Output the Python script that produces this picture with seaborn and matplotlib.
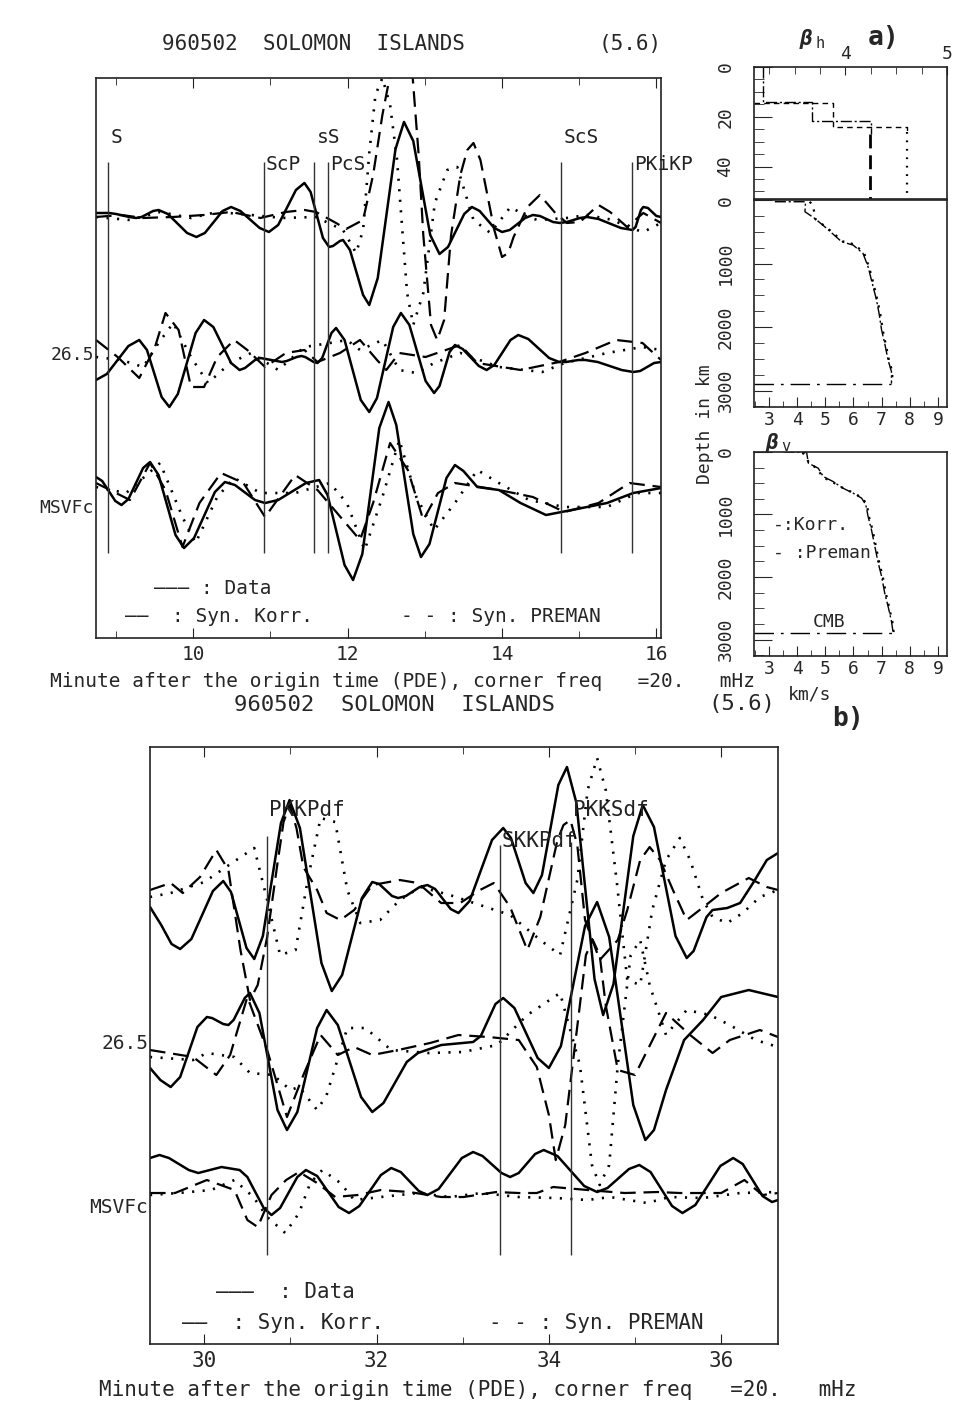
import pandas as pd
import matplotlib
matplotlib.use("Agg")
import matplotlib.pyplot as plt
from matplotlib.ticker import MultipleLocator, FixedLocator
import seaborn as sns

# ---------- a) window 8.7 - 16.1 min : three records (traces 1..3) ----------
top1_data_t = [8.74, 8.91, 9.00, 9.17, 9.26, 9.33, 9.48, 9.55, 9.67, 9.92, 10.04, 10.15, 10.38, 10.49, 10.61,
               10.86, 10.98, 11.10, 11.33, 11.44, 11.52, 11.68, 11.76, 11.81, 11.90, 11.94, 12.03, 12.20, 12.28,
               12.39, 12.62, 12.73, 12.85, 13.07, 13.19, 13.30, 13.51, 13.61, 13.71, 13.90, 14.00, 14.10, 14.30,
               14.40, 14.49, 14.66, 14.75, 14.84, 15.01, 15.10, 15.25, 15.54, 15.69, 15.73, 15.80, 15.83, 15.89,
               16.00, 16.06]
top1_data_a = [2, 2, 1, -2, -3, -2, 4, 5, 1, -18, -22, -18, 4, 8, 4, -13, -17, -10, 25, 32, 23, -23, -32, -31, -26,
               -25, -35, -80, -90, -63, 66, 93, 74, -20, -39, -32, 1, 8, 4, -13, -17, -15, -3, 0, -1, -7, -8, -7,
               -3, -2, -4, -13, -15, -12, 5, 8, 7, -1, -2]
top1_korr_t = [8.74, 9.07, 9.35, 9.74, 10.14, 10.49, 10.87, 11.20, 11.44, 11.59, 11.85, 11.98, 12.20, 12.33, 12.45,
               12.55, 12.68, 12.84, 12.92, 12.98, 13.08, 13.16, 13.25, 13.34, 13.46, 13.55, 13.63, 13.72, 13.81,
               13.90, 14.00, 14.08, 14.15, 14.33, 14.49, 14.69, 14.84, 15.01, 15.25, 15.40, 15.62, 15.83, 16.06]
top1_korr_a = [-2, 0, -3, -2, 0, 3, -3, 3, 5, 3, -8, -14, -5, 40, 100, 140, 175, 140, 60, -20, -110, -125, -105,
               -20, 40, 65, 72, 55, 20, -15, -42, -38, -22, 8, 20, 2, -8, -7, 10, 3, -12, 2, -8]
top1_prem_t = [8.74, 9.18, 9.57, 9.97, 10.31, 10.75, 11.15, 11.59, 11.94, 12.11, 12.20, 12.28, 12.36, 12.45, 12.55,
               12.64, 12.77, 12.85, 12.98, 13.13, 13.29, 13.42, 13.63, 13.85, 14.11, 14.33, 14.46, 14.84, 15.10,
               15.44, 15.62, 15.83, 16.06]
top1_prem_a = [-2, -5, 3, -3, 3, 0, -3, -2, -15, -38, -15, 62, 120, 137, 110, 55, -78, -110, -78, 12, 45, 48, -5,
               -18, 8, -2, -5, -3, 0, -5, -12, -17, -8]

top2_data_t = [8.74, 8.88, 9.16, 9.30, 9.40, 9.59, 9.69, 9.80, 10.03, 10.14, 10.26, 10.49, 10.60, 10.67, 10.80,
               10.87, 10.94, 11.08, 11.15, 11.21, 11.34, 11.40, 11.45, 11.56, 11.61, 11.67, 11.79, 11.85, 11.96,
               12.17, 12.28, 12.38, 12.59, 12.69, 12.80, 13.01, 13.12, 13.19, 13.32, 13.39, 13.49, 13.70, 13.80,
               13.90, 14.11, 14.21, 14.34, 14.61, 14.74, 14.83, 14.99, 15.08, 15.24, 15.55, 15.70, 15.79, 15.97,
               16.06]
top2_data_a = [-22, -16, 12, 18, 8, -39, -49, -36, 25, 38, 31, -5, -12, -10, -2, 0, -1, -3, -4, -3, 1, 2, 1, -4,
               -5, 0, 25, 30, 18, -42, -54, -40, 31, 45, 33, -23, -35, -28, 6, 13, 9, -8, -12, -7, 18, 23, 19, 0,
               -4, -4, -2, -2, -4, -12, -14, -13, -5, -4]
top2_korr_t = [8.74, 9.02, 9.30, 9.50, 9.64, 9.81, 9.97, 10.14, 10.31, 10.53, 10.70, 10.93, 11.20, 11.44, 11.61,
               11.90, 12.16, 12.38, 12.50, 12.67, 13.01, 13.46, 13.68, 14.24, 14.74, 15.08, 15.48, 15.82, 16.06]
top2_korr_a = [18, 1, -20, 10, 45, 28, -29, -29, 1, 18, 8, -9, 5, 8, -4, 5, 18, -2, -12, 5, 1, 13, -5, -12, -4, 5,
               18, 15, -2]
top2_prem_t = [8.74, 9.07, 9.35, 9.55, 9.74, 9.97, 10.19, 10.48, 10.75, 11.10, 11.44, 11.77, 11.99, 12.16, 12.45,
               12.67, 12.89, 13.12, 13.46, 13.96, 14.52, 14.81, 15.36, 15.82, 16.06]
top2_prem_a = [1, -2, -9, 15, 35, 1, -25, -5, 5, -12, 11, 15, 18, 8, 18, -12, -15, -5, 5, -9, -14, -5, 5, 11, 8]

top3_data_t = [8.74, 8.82, 8.99, 9.07, 9.16, 9.35, 9.44, 9.55, 9.77, 9.88, 10.01, 10.28, 10.41, 10.54, 10.80,
               10.93, 11.10, 11.46, 11.63, 11.74, 11.96, 12.07, 12.19, 12.41, 12.53, 12.63, 12.85, 12.95, 13.06,
               13.28, 13.39, 13.50, 13.68, 13.96, 14.24, 14.57, 14.97, 15.36, 15.70, 16.06]
top3_data_a = [18, 14, -6, -10, -4, 27, 33, 20, -40, -53, -43, 3, 13, 10, -5, -8, -5, 12, 15, 0, -70, -85, -59, 67,
               93, 70, -39, -62, -49, 17, 30, 24, 8, 5, -8, -20, -14, -8, 2, 7]
top3_korr_t = [8.74, 9.18, 9.44, 9.64, 9.86, 10.08, 10.36, 10.65, 10.93, 11.32, 11.61, 11.94, 12.16, 12.33, 12.55,
               12.78, 12.98, 13.17, 13.39, 13.96, 14.40, 14.81, 15.25, 15.65, 16.06]
top3_korr_a = [12, -5, 32, 5, -52, -8, 22, 12, -22, 20, 5, -25, -45, -8, 52, 25, -25, 2, 12, 5, -2, -17, -8, 12, 8]
top3_prem_t = [8.74, 9.13, 9.57, 9.86, 10.03, 10.31, 10.53, 10.87, 11.32, 11.77, 11.99, 12.22, 12.45, 12.67, 12.89,
               13.12, 13.39, 13.68, 13.96, 14.35, 14.81, 15.36, 15.75, 16.06]
top3_prem_a = [8, 2, 32, -22, -48, -2, 17, 2, 2, 12, -8, -55, -2, 55, -2, -35, -8, 25, 12, -5, -12, -12, 2, 2]

top_phase_names = ["S", "ScP", "sS", "PcS", "ScS", "PKiKP"]
top_phase_t = [8.90, 10.92, 11.57, 11.75, 14.77, 15.69]
top_phase_row = [0, 1, 0, 1, 0, 1]

# ---------- b) window 29.4 - 36.7 min ----------
bot1_data_t = [29.37, 29.50, 29.62, 29.72, 29.85, 30.10, 30.22, 30.31, 30.49, 30.58, 30.68, 30.89, 30.99, 31.11,
               31.36, 31.48, 31.60, 31.83, 31.95, 32.03, 32.18, 32.25, 32.34, 32.50, 32.59, 32.68, 32.86, 32.95,
               33.08, 33.34, 33.47, 33.56, 33.73, 33.82, 33.92, 34.11, 34.21, 34.32, 34.53, 34.63, 34.75, 34.98,
               35.09, 35.22, 35.47, 35.60, 35.68, 35.83, 35.90, 36.07, 36.22, 36.37, 36.53, 36.66]
bot1_data_a = [-7, -25, -44, -49, -39, 9, 19, 8, -48, -59, -36, 77, 100, 72, -63, -91, -75, 2, 18, 16, 4, 2, 4, 13,
               15, 11, -9, -13, -1, 60, 72, 62, 17, 7, 25, 115, 133, 97, -79, -115, -84, 64, 95, 73, -36, -58, -51,
               -17, -10, -8, -3, 17, 40, 47]
bot1_korr_t = [29.37, 29.61, 29.75, 29.95, 30.14, 30.28, 30.42, 30.53, 30.62, 30.73, 30.85, 30.92, 30.99, 31.07,
               31.15, 31.31, 31.42, 31.58, 31.74, 31.95, 32.27, 32.48, 32.75, 32.97, 33.20, 33.36, 33.55, 33.75,
               33.90, 34.10, 34.17, 34.25, 34.33, 34.42, 34.59, 34.80, 34.91, 35.06, 35.17, 35.29, 35.44, 35.60,
               35.75, 36.00, 36.32, 36.53, 36.66]
bot1_korr_a = [10, 17, 7, 23, 50, 30, -50, -100, -85, -37, 37, 78, 95, 72, 33, 10, -13, -20, -10, 15, 20, 17, -3,
               -3, 10, 17, -7, -50, -17, 60, 75, 80, 55, -20, -60, -40, -10, 40, 53, 40, 10, -20, -10, 7, 22, 13, 10]
bot1_prem_t = [29.37, 29.61, 30.00, 30.32, 30.58, 30.73, 30.88, 31.06, 31.20, 31.35, 31.52, 31.66, 31.81, 32.04,
               32.27, 32.51, 32.85, 33.20, 33.55, 33.90, 34.13, 34.33, 34.45, 34.56, 34.66, 34.79, 34.91, 35.06,
               35.20, 35.36, 35.52, 35.64, 35.79, 35.90, 36.07, 36.25, 36.45, 36.66]
bot1_prem_a = [3, 7, 18, 37, 52, 0, -55, -50, 20, 82, 78, 10, -23, -20, 0, 13, 5, -5, -15, -40, -55, 20, 110, 142,
               110, 17, -80, -85, -10, 40, 62, 40, 0, -17, -23, -13, 3, 10]

bot2_data_t = [29.37, 29.49, 29.61, 29.72, 29.92, 30.03, 30.09, 30.22, 30.28, 30.34, 30.47, 30.53, 30.64, 30.85,
               30.96, 31.08, 31.31, 31.42, 31.55, 31.82, 31.95, 32.08, 32.35, 32.48, 32.75, 33.12, 33.21, 33.38,
               33.47, 33.60, 33.87, 34.00, 34.14, 34.42, 34.56, 34.70, 34.98, 35.12, 35.22, 35.36, 35.57, 35.79,
               36.00, 36.32, 36.66]
bot2_data_a = [-23, -35, -42, -32, 18, 28, 27, 21, 20, 25, 47, 52, 32, -65, -85, -67, 17, 35, 20, -52, -67, -58,
               -17, -8, 0, 3, 9, 41, 47, 37, -13, -23, -1, 119, 143, 108, -60, -95, -85, -45, 5, 25, 48, 55, 48]
bot2_korr_t = [29.37, 29.87, 30.14, 30.30, 30.50, 30.73, 30.96, 31.15, 31.35, 31.55, 31.74, 31.95, 32.25, 32.62,
               32.95, 33.30, 33.65, 33.86, 34.00, 34.08, 34.19, 34.36, 34.43, 34.51, 34.59, 34.66, 34.80, 35.00,
               35.36, 35.64, 35.90, 36.10, 36.45, 36.66]
bot2_korr_a = [-5, -12, -30, -10, 48, -5, -72, -30, 10, -10, -2, -10, -5, 2, 10, 8, 5, -22, -70, -115, -80, 40, 90,
               105, 90, 40, -25, -30, 32, 10, -8, 5, 15, 8]
bot2_prem_t = [29.37, 29.87, 30.03, 30.35, 30.53, 30.80, 31.00, 31.10, 31.31, 31.42, 31.66, 31.87, 32.17, 32.60,
               33.00, 33.40, 33.75, 34.13, 34.36, 34.50, 34.59, 34.70, 34.80, 34.95, 35.06, 35.17, 35.36, 35.60,
               35.87, 36.10, 36.40, 36.66]
bot2_prem_a = [-12, -15, -8, -12, -28, -30, -45, -42, -65, -50, 17, 17, -5, -8, -7, 0, 30, 52, -20, -120, -140,
               -120, -20, 90, 105, 60, 10, 35, 30, 20, 5, -2]

bot3_data_t = [29.37, 29.48, 29.59, 29.82, 29.93, 30.20, 30.41, 30.50, 30.69, 30.78, 30.88, 31.08, 31.18, 31.31,
               31.56, 31.68, 31.80, 32.05, 32.17, 32.28, 32.49, 32.59, 32.72, 32.99, 33.12, 33.23, 33.45, 33.55,
               33.65, 33.84, 33.94, 34.10, 34.41, 34.56, 34.68, 34.93, 35.05, 35.18, 35.43, 35.55, 35.70, 35.99,
               36.14, 36.25, 36.48, 36.59, 36.66]
bot3_data_a = [37, 40, 37, 25, 22, 28, 25, 18, -13, -20, -13, 18, 25, 19, -12, -18, -11, 20, 27, 23, 4, 0, 6, 37,
               43, 39, 22, 18, 22, 41, 45, 39, 9, 3, 7, 26, 30, 23, -11, -18, -10, 29, 37, 31, -1, -7, -5]
bot3_korr_t = [29.37, 29.66, 30.03, 30.35, 30.50, 30.62, 30.78, 30.95, 31.10, 31.31, 31.52, 31.78, 32.05, 32.38,
               32.75, 33.01, 33.39, 33.65, 33.86, 34.05, 34.45, 34.88, 35.26, 35.52, 36.00, 36.27, 36.48, 36.66]
bot3_korr_a = [2, 2, 15, 5, -25, -32, 0, 15, 23, 12, -2, 0, 5, 3, -2, -2, 3, 2, 2, 8, 5, 2, 3, 2, 2, 15, 0, 2]
bot3_prem_t = [29.37, 29.70, 30.08, 30.35, 30.57, 30.73, 30.94, 31.10, 31.23, 31.37, 31.58, 31.74, 32.05, 32.48,
               32.85, 33.22, 33.65, 34.08, 34.45, 34.71, 35.14, 35.40, 35.79, 36.22, 36.66]
bot3_prem_a = [0, 2, 5, 15, -2, -22, -38, -18, 12, 25, 12, -5, -2, 2, -2, 2, -2, -3, -5, -2, -8, -2, -3, 2, 3]

bot_phase_names = ["PKKPdf", "SKKPdf", "PKKSdf"]
bot_phase_t = [30.73, 33.43, 34.26]
bot_phase_row = [0, 1, 0]

# ---------- velocity models (km/s vs depth km) ----------
bh_korr_v = [3.19, 3.19, 3.67, 3.67, 4.25, 4.25]
bh_korr_d = [0, 14.2, 14.2, 21.6, 21.6, 27]
bh_korr_mantle_v = [4.24, 4.24]
bh_korr_mantle_d = [27, 53]
bh_prem_v = [3.10, 3.88, 3.88, 4.61, 4.61]
bh_prem_d = [14.4, 14.4, 24, 24, 26]
bh_prem_mantle_v = [4.61, 4.61]
bh_prem_mantle_d = [26, 53]

mid_korr_v = [3.21, 3.92, 4.30, 4.28, 4.63, 5.05, 5.58, 5.99, 6.34, 6.52, 6.64, 6.82, 6.91, 7.00, 7.11, 7.23,
              7.35, 7.35]
mid_korr_d = [26, 26, 26, 184, 289, 446, 656, 709, 840, 1050, 1260, 1575, 1785, 2047, 2257, 2520, 2703, 2890]
mid_prem_v = [4.45, 4.57, 4.65, 5.10, 5.62, 6.05, 6.38, 6.55, 6.68, 6.85, 6.95, 7.04, 7.14, 7.26, 7.38, 7.38]
mid_prem_d = [26, 94, 300, 450, 650, 700, 840, 1050, 1260, 1575, 1785, 2047, 2257, 2520, 2703, 2890]

bv_korr_v = [3.51, 4.34, 4.40, 4.75, 4.93, 5.28, 5.63, 5.99, 6.29, 6.44, 6.52, 6.64, 6.76, 6.88, 7.00, 7.11,
             7.23, 7.35, 7.41]
bv_korr_d = [0, 10, 180, 260, 394, 474, 580, 659, 739, 845, 1031, 1244, 1510, 1775, 1988, 2254, 2467, 2706, 2892]
bv_prem_v = [4.20, 4.45, 4.72, 4.90, 5.25, 5.66, 6.04, 6.33, 6.48, 6.55, 6.68, 6.80, 6.92, 7.04, 7.15, 7.26,
             7.38, 7.43]
bv_prem_d = [10, 190, 265, 400, 480, 585, 662, 742, 850, 1035, 1250, 1515, 1780, 1990, 2260, 2470, 2710, 2892]
cmb_depth = 2891

# ---------------------------------------------------------------------------
sns.set_style("white")
plt.rcParams["font.family"] = ["DejaVu Sans Mono", "DejaVu Sans"]
plt.rcParams["axes.edgecolor"] = "#222222"
plt.rcParams["axes.linewidth"] = 1.2

styles = {
    "Data": dict(linewidth=1.8, linestyle="-"),
    "Korr": dict(linewidth=1.6, linestyle=(0, (7, 3.5))),
    "PREMAN": dict(linewidth=1.9, linestyle=(0, (0.8, 3.2))),
}


def make_frame(series, offsets):
    rows = []
    for (trace, model), (t, a) in series.items():
        for ti, ai in zip(t, a):
            rows.append({"time": ti, "y": offsets[trace] + ai, "trace": trace, "model": model})
    return pd.DataFrame(rows)


def draw_traces(ax, df):
    for model, st in styles.items():
        sub = df[df["model"] == model]
        sns.lineplot(data=sub, x="time", y="y", units="trace", estimator=None, sort=False,
                     color="black", ax=ax, legend=False, solid_joinstyle="round", **st)
    ax.set_xlabel("")
    ax.set_ylabel("")


def style_time_axis(ax, xlim, ytop, size):
    ax.set_xlim(*xlim)
    ax.set_ylim(0, ytop)
    ax.set_yticks([])
    ax.xaxis.set_major_locator(MultipleLocator(2))
    ax.xaxis.set_minor_locator(MultipleLocator(1))
    ax.tick_params(axis="x", which="both", direction="in", top=True, bottom=True,
                   labelsize=size, pad=5, color="#222222")
    ax.tick_params(axis="x", which="major", length=7)
    ax.tick_params(axis="x", which="minor", length=5)


fig = plt.figure(figsize=(9.66, 14.10), dpi=100)

# ---------------- panel a) ----------------
ax_top = fig.add_axes([0.0994, 0.5475, 0.5849, 0.3972])
top_off = {1: 423, 2: 280, 3: 143}
top_series = {
    (1, "Data"): (top1_data_t, top1_data_a), (1, "Korr"): (top1_korr_t, top1_korr_a),
    (1, "PREMAN"): (top1_prem_t, top1_prem_a),
    (2, "Data"): (top2_data_t, top2_data_a), (2, "Korr"): (top2_korr_t, top2_korr_a),
    (2, "PREMAN"): (top2_prem_t, top2_prem_a),
    (3, "Data"): (top3_data_t, top3_data_a), (3, "Korr"): (top3_korr_t, top3_korr_a),
    (3, "PREMAN"): (top3_prem_t, top3_prem_a),
}
draw_traces(ax_top, make_frame(top_series, top_off))
style_time_axis(ax_top, (8.74, 16.06), 560, 14)
ax_top.vlines(top_phase_t, 85, 476, color="#333333", lw=1.0)
for name, t, row in zip(top_phase_names, top_phase_t, top_phase_row):
    ax_top.text(t + (0.03 if row == 0 else 0.02), 500 if row == 0 else 473, name,
                fontsize=14, ha="left", va="center", color="#222222")
ax_top.text(-0.004, 283, "26.5", transform=ax_top.get_yaxis_transform(), ha="right", va="center", fontsize=13)
ax_top.text(-0.004, 130, "MSVFc", transform=ax_top.get_yaxis_transform(), ha="right", va="center", fontsize=13)
ax_top.text(9.49, 50, "——— : Data", fontsize=14, ha="left", va="center")
ax_top.text(9.11, 22, "——  : Syn. Korr.", fontsize=14, ha="left", va="center")
ax_top.text(12.69, 22, "- - : Syn. PREMAN", fontsize=14, ha="left", va="center")

fig.text(0.325, 0.969, "960502  SOLOMON  ISLANDS", fontsize=15, ha="center", va="center")
fig.text(0.652, 0.969, "(5.6)", fontsize=15, ha="center", va="center")
fig.text(0.417, 0.517, "Minute after the origin time (PDE), corner freq   =20.   mHz",
         fontsize=14, ha="center", va="center")

# ---------------- panel b) ----------------
ax_bot = fig.add_axes([0.1553, 0.0468, 0.6501, 0.4234])
bot_off = {1: 444, 2: 299, 3: 149}
bot_series = {
    (1, "Data"): (bot1_data_t, bot1_data_a), (1, "Korr"): (bot1_korr_t, bot1_korr_a),
    (1, "PREMAN"): (bot1_prem_t, bot1_prem_a),
    (2, "Data"): (bot2_data_t, bot2_data_a), (2, "Korr"): (bot2_korr_t, bot2_korr_a),
    (2, "PREMAN"): (bot2_prem_t, bot2_prem_a),
    (3, "Data"): (bot3_data_t, bot3_data_a), (3, "Korr"): (bot3_korr_t, bot3_korr_a),
    (3, "PREMAN"): (bot3_prem_t, bot3_prem_a),
}
draw_traces(ax_bot, make_frame(bot_series, bot_off))
style_time_axis(ax_bot, (29.37, 36.66), 597, 15)
ax_bot.vlines(bot_phase_t, 89, [508, 499, 502], color="#333333", lw=1.0)
for name, t, row in zip(bot_phase_names, bot_phase_t, bot_phase_row):
    ax_bot.text(t + 0.02, 534 if row == 0 else 503, name, fontsize=15, ha="left", va="center", color="#222222")
ax_bot.text(-0.003, 301, "26.5", transform=ax_bot.get_yaxis_transform(), ha="right", va="center", fontsize=14)
ax_bot.text(-0.003, 137, "MSVFc", transform=ax_bot.get_yaxis_transform(), ha="right", va="center", fontsize=14)
ax_bot.text(30.14, 52, "———  : Data", fontsize=15, ha="left", va="center")
ax_bot.text(29.74, 21, "——  : Syn. Korr.", fontsize=15, ha="left", va="center")
ax_bot.text(33.31, 21, "- - : Syn. PREMAN", fontsize=15, ha="left", va="center")

fig.text(0.408, 0.500, "960502  SOLOMON  ISLANDS", fontsize=16, ha="center", va="center")
fig.text(0.768, 0.501, "(5.6)", fontsize=16, ha="center", va="center")
fig.text(0.495, 0.0142, "Minute after the origin time (PDE), corner freq   =20.   mHz",
         fontsize=15, ha="center", va="center")

# ---------------- velocity panels ----------------
ax_bh = fig.add_axes([0.7805, 0.8589, 0.1998, 0.0936])
ax_mid = fig.add_axes([0.7805, 0.7113, 0.1998, 0.1468])
ax_bv = fig.add_axes([0.7805, 0.5348, 0.1998, 0.1447])

thin_korr = dict(color="black", linewidth=1.0, linestyle=(0, (8, 2, 1.5, 2)))
thin_prem = dict(color="black", linewidth=1.0, linestyle=(0, (4, 3)))

sns.lineplot(x=bh_korr_v, y=bh_korr_d, sort=False, estimator=None, ax=ax_bh, **thin_korr)
sns.lineplot(x=bh_korr_mantle_v, y=bh_korr_mantle_d, sort=False, estimator=None, ax=ax_bh,
             color="black", linewidth=2.0, linestyle=(0, (5, 2.5)))
sns.lineplot(x=bh_prem_v, y=bh_prem_d, sort=False, estimator=None, ax=ax_bh, **thin_prem)
sns.lineplot(x=bh_prem_mantle_v, y=bh_prem_mantle_d, sort=False, estimator=None, ax=ax_bh,
             color="black", linewidth=1.6, linestyle=(0, (0.8, 3)))

sns.lineplot(x=mid_korr_v, y=mid_korr_d, sort=False, estimator=None, ax=ax_mid, **thin_korr)
sns.lineplot(x=mid_prem_v, y=mid_prem_d, sort=False, estimator=None, ax=ax_mid,
             color="black", linewidth=1.6, linestyle=(0, (1, 3)))
ax_mid.hlines(cmb_depth, 2.47, mid_korr_v[-1], color="black", lw=1.0, linestyles=[(0, (14, 5, 2, 5))])

sns.lineplot(x=bv_korr_v, y=bv_korr_d, sort=False, estimator=None, ax=ax_bv, **thin_korr)
sns.lineplot(x=bv_prem_v, y=bv_prem_d, sort=False, estimator=None, ax=ax_bv,
             color="black", linewidth=1.6, linestyle=(0, (1, 3)))
ax_bv.hlines(cmb_depth, 2.47, bv_korr_v[-1], color="black", lw=1.0, linestyles=[(0, (14, 5, 2, 5))])
ax_bv.text(3.14, 1164, "-:Korr.", fontsize=13, ha="left", va="center")
ax_bv.text(3.14, 1611, "- :Preman", fontsize=13, ha="left", va="center")
ax_bv.text(4.56, 2711, "CMB", fontsize=13, ha="left", va="center")

for axr in (ax_bh, ax_mid, ax_bv):
    axr.set_xlabel("")
    axr.set_ylabel("")
    for sp in axr.spines.values():
        sp.set_linewidth(1.2)
        sp.set_color("#222222")

ax_bh.set_xlim(3.1, 5.0)
ax_bh.set_ylim(53, 0)
ax_bh.xaxis.tick_top()
ax_bh.xaxis.set_major_locator(FixedLocator([4, 5]))
ax_bh.xaxis.set_minor_locator(MultipleLocator(0.25))
ax_bh.tick_params(axis="x", which="both", direction="in", top=True, bottom=False,
                  labeltop=True, labelbottom=False, labelsize=13, pad=3)
ax_bh.tick_params(axis="x", which="major", length=6)
ax_bh.tick_params(axis="x", which="minor", length=5)
ax_bh.yaxis.set_major_locator(FixedLocator([0, 20, 40]))
ax_bh.yaxis.set_minor_locator(MultipleLocator(5))

for axr in (ax_mid, ax_bv):
    axr.set_xlim(2.47, 9.32)
    axr.set_ylim(3260, 0)
    axr.xaxis.set_major_locator(MultipleLocator(1))
    axr.xaxis.set_minor_locator(MultipleLocator(0.5))
    axr.tick_params(axis="x", which="both", direction="in", top=False, bottom=True, labelsize=13, pad=3)
    axr.tick_params(axis="x", which="major", length=7)
    axr.tick_params(axis="x", which="minor", length=4)
    axr.yaxis.set_major_locator(FixedLocator([0, 1000, 2000, 3000]))
    axr.yaxis.set_minor_locator(MultipleLocator(250))

for axr in (ax_bh, ax_mid, ax_bv):
    axr.tick_params(axis="y", which="both", direction="in", left=True, right=False,
                    labelsize=13, pad=14, labelrotation=90)
    axr.tick_params(axis="y", which="major", length=13)
    axr.tick_params(axis="y", which="minor", length=7)
    for lab in axr.get_yticklabels():
        lab.set_va("center")

ax_bv.text(0.29, -0.19, "km/s", transform=ax_bv.transAxes, fontsize=13, ha="center", va="center")
fig.text(0.730, 0.699, "Depth in km", rotation=90, fontsize=13, ha="center", va="center")

fig.text(0.834, 0.972, "β", fontsize=15, fontweight="bold", style="italic", ha="center", va="center")
fig.text(0.849, 0.969, "h", fontsize=11, ha="center", va="center")
fig.text(0.915, 0.973, "a)", fontsize=19, fontweight="bold", ha="center", va="center")
fig.text(0.799, 0.686, "β", fontsize=15, fontweight="bold", style="italic", ha="center", va="center")
fig.text(0.813, 0.683, "v", fontsize=11, ha="center", va="center")
fig.text(0.878, 0.490, "b)", fontsize=19, fontweight="bold", ha="center", va="center")

fig.savefig("out.png", dpi=100, facecolor="white")
